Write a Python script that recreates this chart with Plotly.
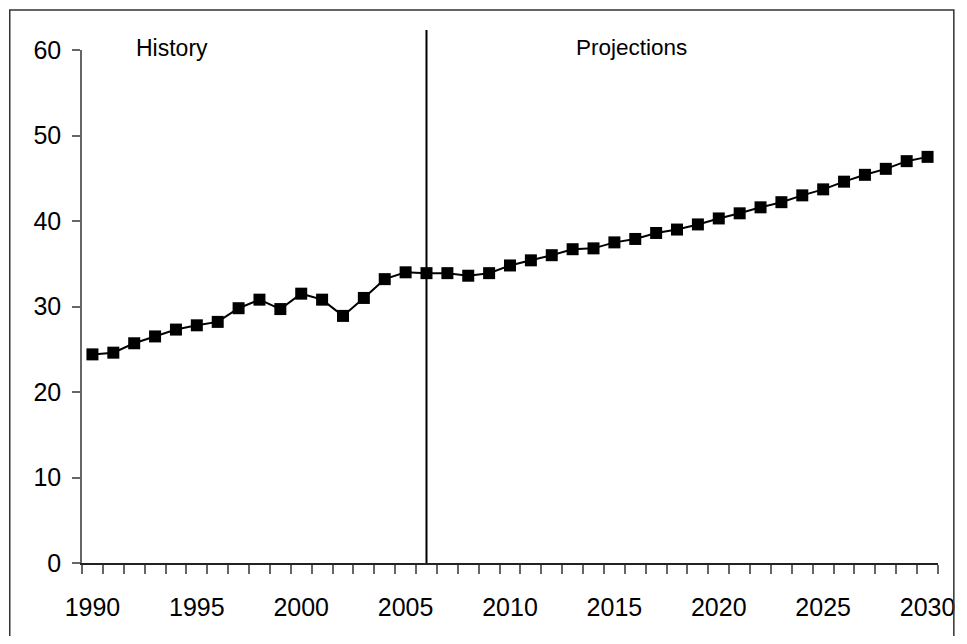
import plotly.graph_objects as go

years = list(range(1990, 2031))
values = [24.4, 24.6, 25.7, 26.5, 27.3, 27.8, 28.2, 29.8, 30.8, 29.7,
          31.5, 30.8, 28.9, 31.0, 33.2, 34.0, 33.9, 33.9, 33.6, 33.9,
          34.8, 35.4, 36.0, 36.7, 36.8, 37.5, 37.9, 38.6, 39.0, 39.6,
          40.3, 40.9, 41.6, 42.2, 43.0, 43.7, 44.6, 45.4, 46.1, 47.0, 47.5]
x_tick_labels = [1990, 1995, 2000, 2005, 2010, 2015, 2020, 2025, 2030]
y_ticks = [0, 10, 20, 30, 40, 50, 60]
split_year = 2006

FONT = "Liberation Sans, Arial, sans-serif"

fig = go.Figure()
fig.add_trace(go.Scatter(
    x=years, y=values, mode="lines+markers",
    line=dict(color="black", width=2),
    marker=dict(symbol="square", size=12, color="black"),
    showlegend=False, hoverinfo="x+y",
))

fig.update_layout(
    width=959, height=628,
    margin=dict(l=74, r=20, t=42, b=73),
    paper_bgcolor="white", plot_bgcolor="white",
    font=dict(family=FONT, size=25, color="black"),
    xaxis=dict(
        range=[1989.5, 2030.5],
        tickmode="array", tickvals=x_tick_labels,
        ticktext=[str(v) for v in x_tick_labels],
        ticks="", showgrid=False, zeroline=False,
        showline=True, linecolor="#222", linewidth=1.5,
        tickfont=dict(size=25, family=FONT, color="black"),
        ticklabelstandoff=21,
        minor=dict(tick0=1989.5, dtick=1, ticks="outside", ticklen=9,
                   tickwidth=1.5, tickcolor="#666", showgrid=False),
    ),
    yaxis=dict(
        range=[0, 60], tickmode="array", tickvals=y_ticks,
        ticks="outside", ticklen=8, tickwidth=1.5, tickcolor="#666",
        showgrid=False, zeroline=False,
        showline=True, linecolor="#666", linewidth=1.5,
        tickfont=dict(size=25, family=FONT, color="black"),
        ticklabelstandoff=6,
    ),
    shapes=[
        dict(type="line", xref="x", yref="paper", x0=split_year, x1=split_year,
             y0=0, y1=1.039, line=dict(color="black", width=2)),
        dict(type="rect", xref="paper", yref="paper", x0=-0.0844, x1=1.0185,
             y0=-0.2, y1=1.078, line=dict(color="#333", width=1.5)),
    ],
    annotations=[
        dict(text="History", xref="paper", yref="paper",
             x=(173 - 82) / 865, y=(563 - 48) / 513, showarrow=False,
             xanchor="center", yanchor="middle",
             font=dict(size=23, family=FONT, color="black")),
        dict(text="Projections", xref="paper", yref="paper",
             x=(637 - 82) / 865, y=(563 - 48) / 513, showarrow=False,
             xanchor="center", yanchor="middle",
             font=dict(size=22.5, family=FONT, color="black")),
    ],
)

fig.write_html("out.html")
